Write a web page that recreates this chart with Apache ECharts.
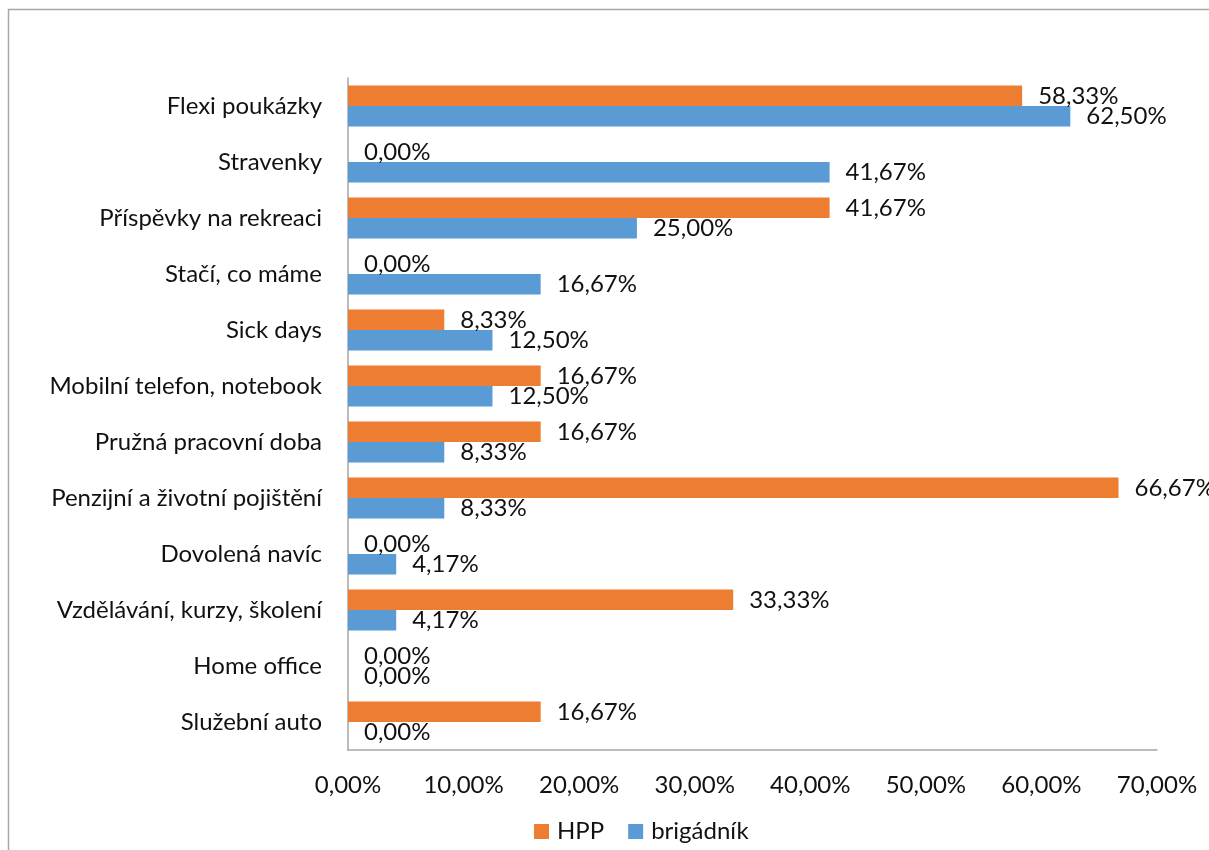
<!DOCTYPE html>
<html>
<head>
<meta charset="utf-8">
<script src="https://cdn.jsdelivr.net/npm/echarts@6/dist/echarts.min.js"></script>
<style>
  html, body { margin: 0; padding: 0; background: #fff; }
  #chart { width: 1209px; height: 850px; }
</style>
</head>
<body>
<div id="chart"></div>
<script>
// Benefit categories, top to bottom
const categories = [
  'Flexi poukázky',
  'Stravenky',
  'Příspěvky na rekreaci',
  'Stačí, co máme',
  'Sick days',
  'Mobilní telefon, notebook',
  'Pružná pracovní doba',
  'Penzijní a životní pojištění',
  'Dovolená navíc',
  'Vzdělávání, kurzy, školení',
  'Home office',
  'Služební auto'
];

// Share of respondents (%)
const hppValues = [58.33, 0, 41.67, 0, 8.33, 16.67, 16.67, 66.67, 0, 33.33, 0, 16.67];
const brigadnikValues = [62.50, 41.67, 25.00, 16.67, 12.50, 12.50, 8.33, 8.33, 4.17, 4.17, 0, 0];

// Axis ticks (%)
const xTicks = [0, 10, 20, 30, 40, 50, 60, 70];

const FONT = 'Lato';
const SIZE = 24;
const TEXT = '#111';
const pct = v => Number(v).toFixed(2).replace('.', ',') + '%';

const chart = echarts.init(document.getElementById('chart'));

const barLabel = {
  show: true,
  position: 'right',
  distance: 16,
  fontFamily: FONT,
  fontSize: SIZE,
  color: TEXT,
  formatter: p => pct(p.value)
};

chart.setOption({
  backgroundColor: '#fff',
  animation: false,
  textStyle: { fontFamily: FONT, color: TEXT },
  graphic: [{
    type: 'rect',
    shape: { x: 8.5, y: 9.5, width: 1300, height: 1000 },
    style: { fill: 'none', stroke: '#a6a6a6', lineWidth: 1.5 },
    silent: true,
    z: 0
  }],
  grid: { left: 348, right: 52, top: 78, bottom: 100, containLabel: false },
  legend: {
    left: 534,
    top: 819,
    padding: 0,
    itemWidth: 15,
    itemHeight: 15,
    itemGap: 24,
    icon: 'rect',
    textStyle: { fontFamily: FONT, fontSize: SIZE, lineHeight: 25, color: TEXT, padding: [0, 0, 0, 3] },
    data: ['HPP', 'brigádník']
  },
  xAxis: {
    type: 'value',
    min: xTicks[0],
    max: xTicks[xTicks.length - 1],
    interval: xTicks[1] - xTicks[0],
    axisLine: { show: true, lineStyle: { color: '#a6a6a6', width: 1.5 } },
    axisTick: { show: false },
    splitLine: { show: false },
    axisLabel: {
      margin: 23,
      fontFamily: FONT,
      fontSize: SIZE,
      color: TEXT,
      formatter: v => pct(v)
    }
  },
  yAxis: {
    type: 'category',
    inverse: true,
    data: categories,
    axisLine: { show: true, lineStyle: { color: '#a6a6a6', width: 1.5 } },
    axisTick: { show: false },
    axisLabel: {
      margin: 26,
      fontFamily: FONT,
      fontSize: SIZE,
      color: TEXT
    }
  },
  series: [
    {
      name: 'HPP',
      type: 'bar',
      data: hppValues,
      barGap: '0%',
      barCategoryGap: '27%',
      itemStyle: { color: '#ED7D31' },
      label: barLabel
    },
    {
      name: 'brigádník',
      type: 'bar',
      data: brigadnikValues,
      barGap: '0%',
      barCategoryGap: '27%',
      itemStyle: { color: '#5B9BD5' },
      label: barLabel
    }
  ]
});
</script>
</body>
</html>
